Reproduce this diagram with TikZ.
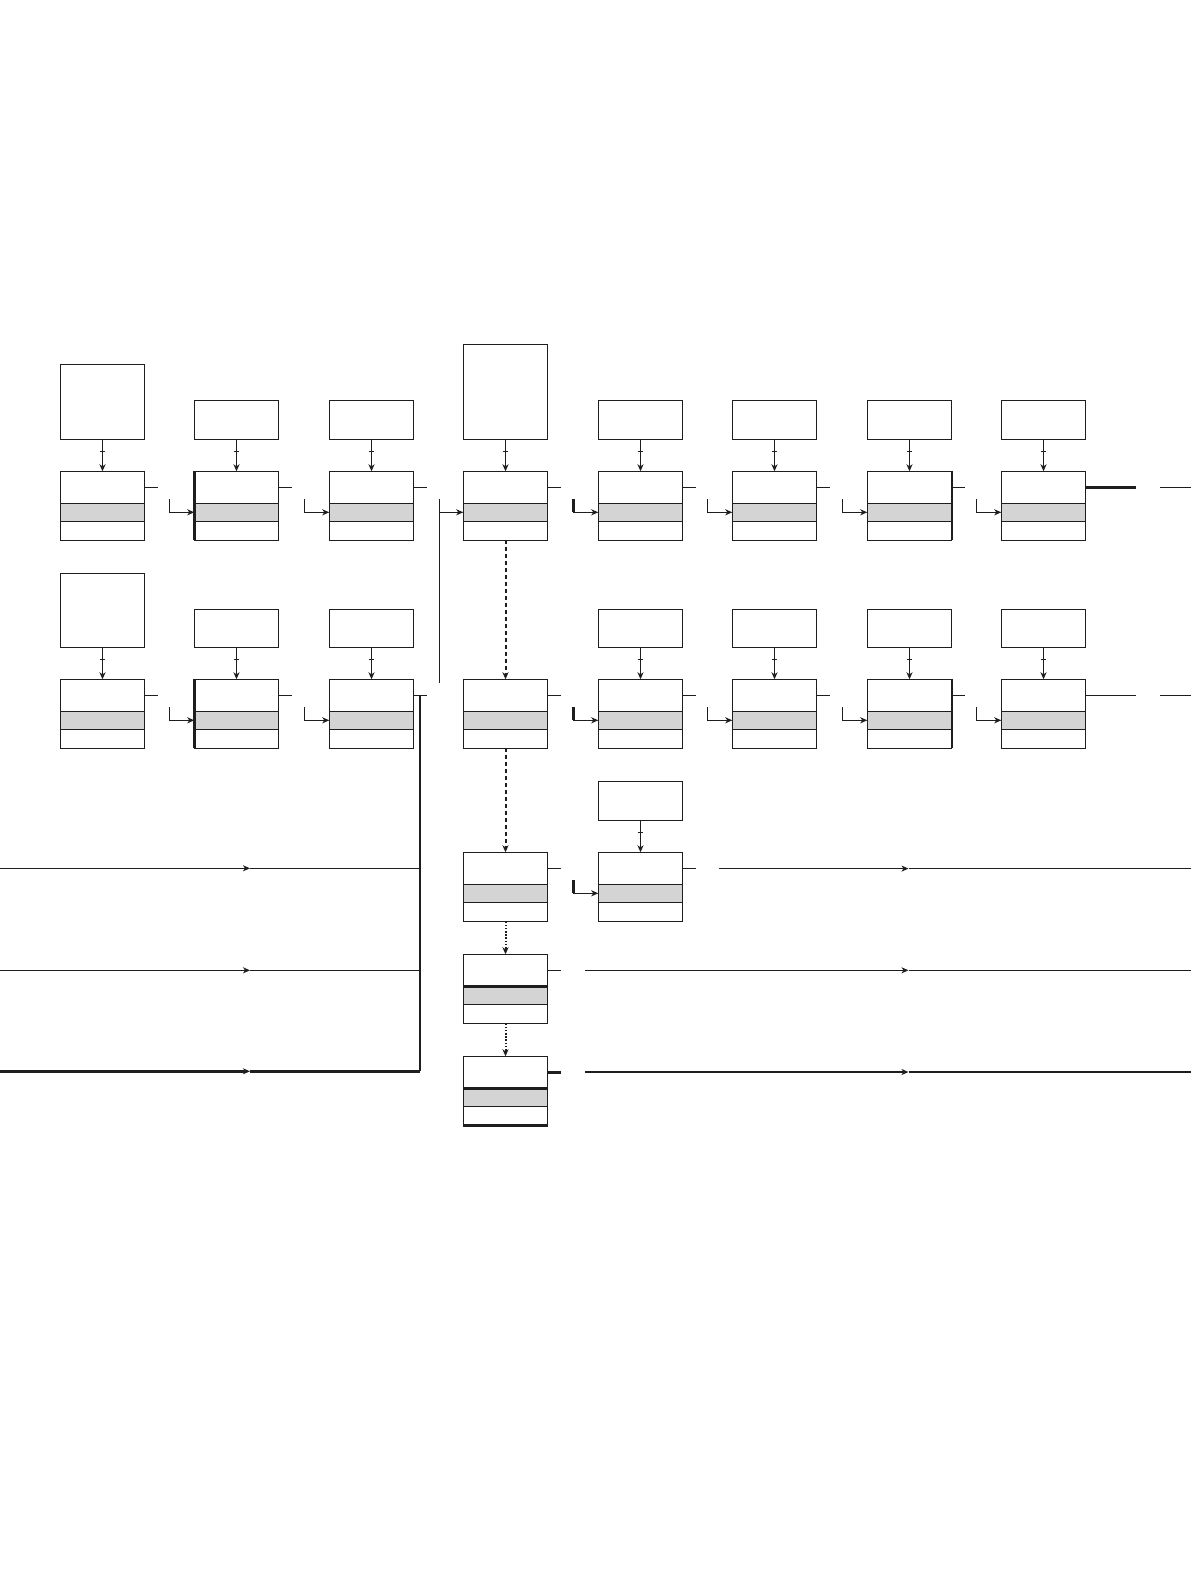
\documentclass[tikz,border=0pt]{standalone}
\usetikzlibrary{arrows.meta,calc}
\definecolor{bandgray}{RGB}{212,212,212}
\definecolor{ink}{RGB}{30,30,30}
\tikzset{
  thinln/.style={line width=1.2pt, draw=ink},
  thickln/.style={line width=2.4pt, draw=ink},
  arr/.style={-{Stealth[length=7pt,width=6pt,inset=2pt]}},
  recbox/.style={draw=ink, line width=1.2pt, minimum width=84.4pt, minimum height=69pt,
    inner sep=0pt, outer sep=0pt, anchor=north west,
    path picture={\filldraw[fill=bandgray, draw=ink, line width=1.2pt]
      ([yshift=-32pt]path picture bounding box.north west) rectangle
      ([yshift=-50pt]path picture bounding box.north east);}},
  topbox/.style={draw=ink, line width=1.2pt, minimum width=84.4pt, inner sep=0pt,
    outer sep=0pt, anchor=north west},
  dashln/.style={line width=2pt, draw=ink, dash pattern=on 4pt off 3pt},
  dotln/.style={line width=2pt, draw=ink, dash pattern=on 1.6pt off 1.6pt},
}
\begin{document}
\begin{tikzpicture}[x=1pt,y=-1pt]
\useasboundingbox (0,0) rectangle (1191,1587);
% ---------- nodes ----------
\foreach \c/\x in {1/60.3,2/194.3,3/329.3,4/463.3,5/598.3,6/732.3,7/867.3,8/1001.3}{
  \node[recbox] (n1\c) at (\x,471.3) {};
  \node[recbox] (n2\c) at (\x,679.3) {};
}
\node[recbox] (n34) at (463.3,852.3) {};
\node[recbox] (n35) at (598.3,852.3) {};
\node[recbox] (n44) at (463.3,954.3) {};
\node[recbox] (n54) at (463.3,1056.3) {};
% ---------- boxes above ----------
\node[topbox, minimum height=75pt] (b11) at (60.3,364.3) {};
\node[topbox, minimum height=95pt] (b14) at (463.3,344.3) {};
\foreach \c/\x in {2/194.3,3/329.3,5/598.3,6/732.3,7/867.3,8/1001.3}{
  \node[topbox, minimum height=39pt] (b1\c) at (\x,400.3) {};
  \node[topbox, minimum height=38pt] (b2\c) at (\x,609.3) {};
}
\node[topbox, minimum height=74pt] (b21) at (60.3,573.3) {};
\node[topbox, minimum height=39pt] (b35) at (598.3,781.3) {};
% ---------- thick borders ----------
\draw[thickln] (n12.north west) -- (n12.south west);
\draw[thickln] (n22.north west) -- (n22.south west);
\draw[thickln] (n17.north east) -- (n17.south east);
\draw[thickln] (n27.north east) -- (n27.south east);
\draw[thickln] ([yshift=-32pt]n44.north west) -- ([yshift=-32pt]n44.north east);
\draw[thickln] ([yshift=-32pt]n54.north west) -- ([yshift=-32pt]n54.north east);
\draw[thickln] (n54.south west) -- (n54.south east);
% ---------- box-to-node arrows with tick ----------
\foreach \r/\c in {1/1,1/2,1/3,1/4,1/5,1/6,1/7,1/8,2/1,2/2,2/3,2/5,2/6,2/7,2/8,3/5}{
  \draw[thinln, arr] (b\r\c.south) -- (n\r\c.north);
  \draw[thinln] ($(b\r\c.south)+(-2.8,12)$) -- ++(5.6,0);
}
% ---------- elbows into band ----------
\foreach \r/\c in {1/2,1/3,1/5,1/6,1/7,1/8,2/2,2/3,2/5,2/6,2/7,2/8,3/5}{
  \coordinate (e\r\c) at ($(n\r\c.north west)+(-25,28)$);
  \draw[thinln, arr] (e\r\c) |- ($(n\r\c.north west)+(0,41)$);
}
\foreach \r in {1,2,3}{
  \draw[thickln] (e\r5) -- ++(0,13);
}
% ---------- right stubs ----------
\foreach \r/\c in {1/1,1/2,1/3,1/4,1/5,1/6,1/7,2/1,2/2,2/4,2/5,2/6,2/7,3/4,3/5,4/4}{
  \coordinate (s\r\c) at ($(n\r\c.north east)+(13.4,16)$);
  \draw[thinln] ($(n\r\c.north east)+(0,16)$) -- (s\r\c);
}
\coordinate (s54) at ($(n54.north east)+(13.4,16)$);
\draw[thickln] ($(n54.north east)+(0,16)$) -- (s54);
\coordinate (s23) at ($(n23.north east)+(13.4,16)$);
\draw[thinln] ($(n23.north east)+(0,16)$) -- (s23);
% row ends at right
\coordinate (s18) at (1135.7,487.3);
\draw[thickln] ($(n18.north east)+(0,16)$) -- (s18);
\coordinate (s28) at (1135.7,695.3);
\draw[thinln] ($(n28.north east)+(0,16)$) -- (s28);
\coordinate (r1a) at (1160,487.3);  \coordinate (r1b) at (1191,487.3);
\coordinate (r2a) at (1160,695.8);  \coordinate (r2b) at (1191,695.8);
\draw[thinln] (r1a) -- (r1b);
\draw[thinln] (r2a) -- (r2b);
% ---------- vertical feed into n14 ----------
\coordinate (v4a) at (439.5,499.3);
\coordinate (v4b) at (439.5,683.3);
\draw[thinln] (v4a) -- (v4b);
\draw[thinln, arr] (439.5,512.3) -- ($(n14.north west)+(0,41)$);
% ---------- dashed / dotted chain ----------
\draw[dashln, arr] (n14.south) -- (n24.north);
\draw[dashln, arr] (n24.south) -- (n34.north);
\draw[dotln, arr] (n34.south) -- (n44.north);
\draw[dotln, arr] (n44.south) -- (n54.north);
% ---------- bus from n23 down ----------
\coordinate (bt) at (420,695.3);
\coordinate (bb) at (420,1071.3);
\draw[thickln] (bt) -- (bb);
\coordinate (l3a) at (0,868.3);  \coordinate (l3m) at (250,868.3); \coordinate (l3b) at (420,868.3);
\coordinate (l4a) at (0,970.3);  \coordinate (l4m) at (250,970.3); \coordinate (l4b) at (420,970.3);
\coordinate (l5a) at (0,1071.3); \coordinate (l5m) at (250,1071.3);
\draw[thinln, arr] (l3a) -- (l3m); \draw[thinln] (l3m) -- (l3b);
\draw[thinln, arr] (l4a) -- (l4m); \draw[thinln] (l4m) -- (l4b);
\draw[thickln, arr] (l5a) -- (l5m); \draw[thickln] (l5m) -- (bb);
% ---------- long lines at right ----------
\coordinate (q3a) at (719.3,868.6); \coordinate (q3m) at (908.5,868.6); \coordinate (q3b) at (1191,868.6);
\coordinate (q4a) at (585,970.3);   \coordinate (q4m) at (908.5,970.3); \coordinate (q4b) at (1191,970.3);
\coordinate (q5a) at (585,1072);    \coordinate (q5m) at (908.5,1072);  \coordinate (q5b) at (1191,1072);
\draw[thinln, arr] (q3a) -- (q3m); \draw[thinln] (q3m) -- (q3b);
\draw[thinln, arr] (q4a) -- (q4m); \draw[thinln] (q4m) -- (q4b);
\draw[thickln, arr] (q5a) -- (q5m); \draw[thickln] (q5m) -- (q5b);
\end{tikzpicture}
\end{document}
